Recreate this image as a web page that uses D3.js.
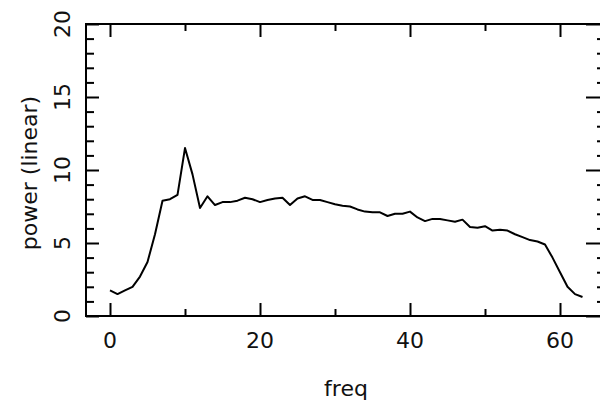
<!DOCTYPE html>
<html>
<head>
<meta charset="utf-8">
<script src="https://cdn.jsdelivr.net/npm/d3@7"></script>
<style>
html,body{margin:0;padding:0;background:#fff;}
svg{display:block;}
text{font-family:"DejaVu Sans",sans-serif;fill:#111;}
</style>
</head>
<body>
<svg id="chart" width="600" height="404"></svg>
<script>
// ---- data ----
const freq = [0,1,2,3,4,5,6,7,8,9,10,11,12,13,14,15,16,17,18,19,20,21,22,23,24,25,26,27,28,29,30,31,32,33,34,35,36,37,38,39,40,41,42,43,44,45,46,47,48,49,50,51,52,53,54,55,56,57,58,59,60,61,62,63];
const power = [1.75,1.5,1.75,2.0,2.7,3.7,5.6,7.9,8.0,8.3,11.5,9.7,7.4,8.2,7.6,7.8,7.8,7.9,8.1,8.0,7.8,7.95,8.05,8.1,7.6,8.05,8.2,7.95,7.95,7.8,7.65,7.55,7.5,7.3,7.15,7.1,7.1,6.85,7.0,7.0,7.15,6.75,6.5,6.65,6.65,6.55,6.45,6.6,6.1,6.05,6.15,5.85,5.9,5.85,5.6,5.4,5.2,5.1,4.9,4.0,3.0,2.0,1.5,1.3];
const xTicks = [0,20,40,60];
const xMinorTicks = [10,30,50];
const yTicks = [0,5,10,15,20];
const yMinorTicks = [1,2,3,4,6,7,8,9,11,12,13,14,16,17,18,19];
const xTitle = "freq";
const yTitle = "power (linear)";

(function(){
// ---- layout ----
const svg = d3.select("#chart");
const x = d3.scaleLinear().domain([0,60]).range([110,560]);
const y = d3.scaleLinear().domain([0,20]).range([316,24]);
const L = 86, R = 601, T = 24, B = 316;
const fs = 22;

// frame
const frame = svg.append("g").attr("stroke","#000").attr("stroke-width",2).attr("fill","none");
frame.append("path").attr("d",`M${R},${T}H${L}V${B}H${R}`);

// ticks via d3 axes
function styleAxis(g){ g.select(".domain").remove(); g.selectAll("line").attr("stroke","#000").attr("stroke-width",2); g.selectAll("text").remove(); }
svg.append("g").attr("transform",`translate(0,${B})`).call(d3.axisTop(x).tickValues(xTicks).tickSize(13)).call(styleAxis);
svg.append("g").attr("transform",`translate(0,${B})`).call(d3.axisTop(x).tickValues(xMinorTicks).tickSize(7)).call(styleAxis);
svg.append("g").attr("transform",`translate(0,${T})`).call(d3.axisBottom(x).tickValues(xTicks).tickSize(13)).call(styleAxis);
svg.append("g").attr("transform",`translate(0,${T})`).call(d3.axisBottom(x).tickValues(xMinorTicks).tickSize(7)).call(styleAxis);
svg.append("g").attr("transform",`translate(${L},0)`).call(d3.axisRight(y).tickValues(yTicks).tickSize(13)).call(styleAxis);
svg.append("g").attr("transform",`translate(${L},0)`).call(d3.axisRight(y).tickValues(yMinorTicks).tickSize(8)).call(styleAxis);
svg.append("g").attr("transform",`translate(${R},0)`).call(d3.axisLeft(y).tickValues(yTicks).tickSize(15)).call(styleAxis);
svg.append("g").attr("transform",`translate(${R},0)`).call(d3.axisLeft(y).tickValues(yMinorTicks).tickSize(4)).call(styleAxis);

// tick labels
svg.append("g").selectAll("text").data(xTicks).join("text")
  .attr("x",d=>x(d)).attr("y",348).attr("text-anchor","middle")
  .attr("font-size",fs).text(d=>d);
svg.append("g").selectAll("text").data(yTicks).join("text")
  .attr("transform",d=>`translate(70,${y(d)}) rotate(-90)`).attr("text-anchor","middle")
  .attr("font-size",fs).text(d=>d);

// titles
svg.append("text").attr("x",346).attr("y",396).attr("text-anchor","middle").attr("font-size",fs).text(xTitle);
svg.append("text").attr("transform","translate(37,173) rotate(-90)").attr("text-anchor","middle").attr("font-size",fs).text(yTitle);

// line
svg.append("path").datum(freq.map((f,i)=>[f,power[i]]))
  .attr("fill","none").attr("stroke","#000").attr("stroke-width",2).attr("stroke-linejoin","round")
  .attr("d",d3.line().x(d=>x(d[0])).y(d=>y(d[1])));
})();
</script>
</body>
</html>
